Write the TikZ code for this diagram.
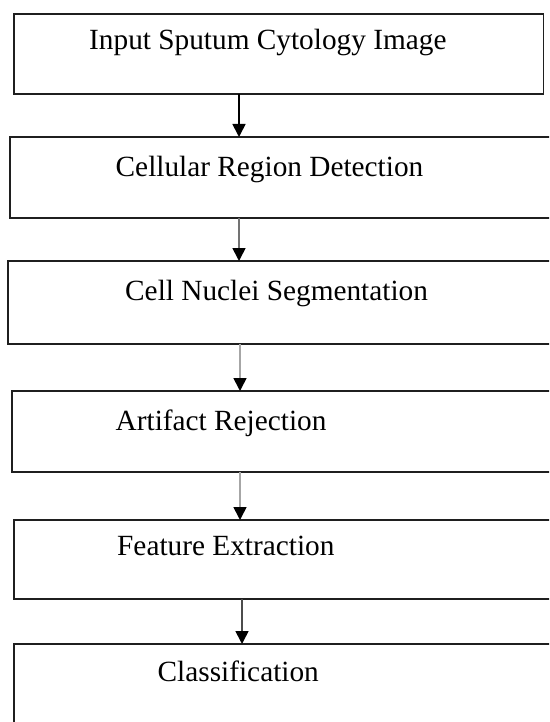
\documentclass[tikz,border=0pt]{standalone}
\usepackage{fontspec}
\setmainfont{Liberation Serif}
\usetikzlibrary{arrows.meta}
\begin{document}
\begin{tikzpicture}[x=1pt,y=-1pt,
  box/.style={draw=black!88, line width=1.9pt, rectangle, anchor=north west, inner sep=0pt, outer sep=0pt},
  lbl/.style={anchor=base west, inner sep=0pt, font=\fontsize{29.3}{34}\selectfont},
  arr/.style={line width=1.7pt, -{Triangle[width=13pt,length=13pt,color=black]}}]
\useasboundingbox (0,0) rectangle (549,722);
\clip (0,0) rectangle (549,722);
% boxes
\node[box, minimum width=529.5pt, minimum height=80pt] (b1) at (14,14) {};
\node[box, minimum width=560pt, minimum height=81pt] (b2) at (10,137) {};
\node[box, minimum width=560pt, minimum height=83pt] (b3) at (8,261) {};
\node[box, minimum width=560pt, minimum height=81pt] (b4) at (12,391) {};
\node[box, minimum width=560pt, minimum height=79pt] (b5) at (14,520) {};
\node[box, minimum width=560pt, minimum height=120pt] (b6) at (14,644) {};
% labels
\node[lbl] (t1) at (89,50) {Input Sputum Cytology Image};
\node[lbl] (t2) at (115.5,176.5) {Cellular Region Detection};
\node[lbl] (t3) at (125,300) {Cell Nuclei Segmentation};
\node[lbl] (t4) at (115.5,430) {Artifact Rejection};
\node[lbl] (t5) at (117,555) {Feature Extraction};
\node[lbl] (t6) at (157.5,681.5) {Classification};
% arrow columns
\coordinate (a1) at (239,0);
\coordinate (a2) at (239,0);
\coordinate (a3) at (240,0);
\coordinate (a4) at (240,0);
\coordinate (a5) at (242,0);
\draw[arr, draw=black] (b1.south -| a1) -- (b2.north -| a1);
\draw[arr, draw=black!55] (b2.south -| a2) -- (b3.north -| a2);
\draw[arr, draw=black!35] (b3.south -| a3) -- (b4.north -| a3);
\draw[arr, draw=black!35] (b4.south -| a4) -- (b5.north -| a4);
\draw[arr, draw=black!70] (b5.south -| a5) -- (b6.north -| a5);
\end{tikzpicture}
\end{document}
